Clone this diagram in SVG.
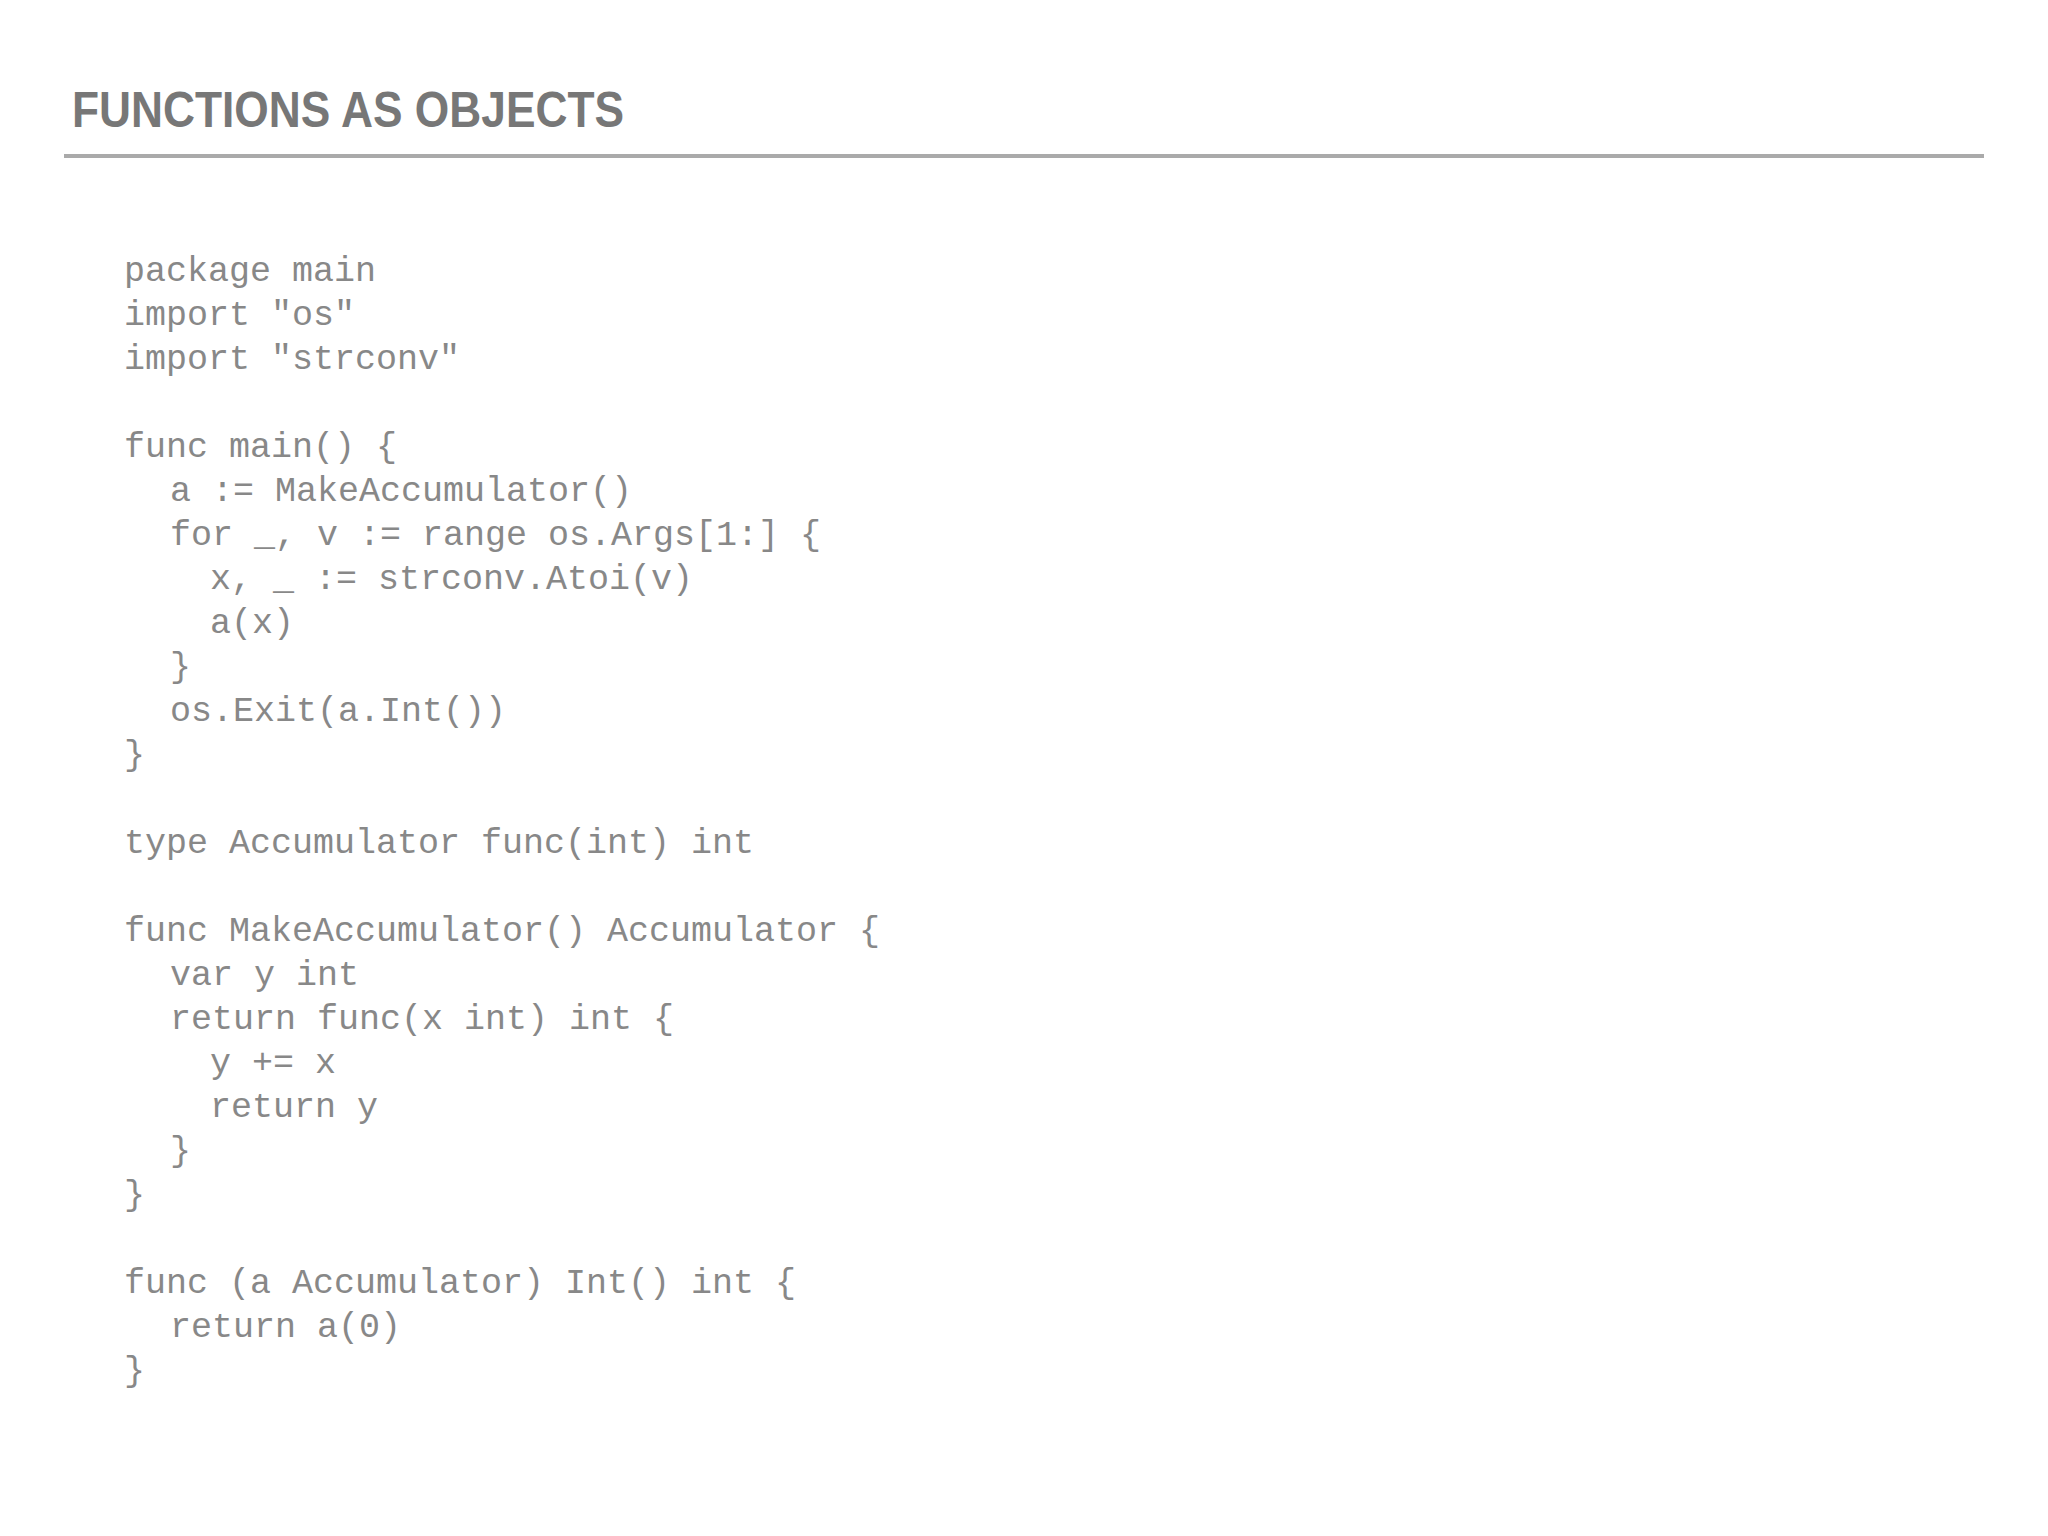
<svg xmlns="http://www.w3.org/2000/svg" width="2048" height="1536" viewBox="0 0 2048 1536">
<style>
.t{font-family:"Liberation Sans",Arial,sans-serif;font-weight:bold;font-size:50px;fill:#777}
.c{font-family:"Liberation Mono","DejaVu Sans Mono",monospace;font-size:35px;fill:#888}
</style>
<rect width="2048" height="1536" fill="#fff"/>
<g id="title"><text class="t" x="72" y="127" textLength="552" lengthAdjust="spacingAndGlyphs">FUNCTIONS AS OBJECTS</text>
<line x1="64" y1="156" x2="1984" y2="156" stroke="#aaa" stroke-width="4"/></g>
<g id="code" class="c">
<text x="124" y="281">package main</text>
<text x="124" y="325">import "os"</text>
<text x="124" y="369">import "strconv"</text>
<text x="124" y="457">func main() {</text>
<text x="170" y="501">a := MakeAccumulator()</text>
<text x="170" y="545">for _, v := range os.Args[1:] {</text>
<text x="210" y="589">x, _ := strconv.Atoi(v)</text>
<text x="210" y="633">a(x)</text>
<text x="170" y="677">}</text>
<text x="170" y="721">os.Exit(a.Int())</text>
<text x="124" y="765">}</text>
<text x="124" y="853">type Accumulator func(int) int</text>
<text x="124" y="941">func MakeAccumulator() Accumulator {</text>
<text x="170" y="985">var y int</text>
<text x="170" y="1029">return func(x int) int {</text>
<text x="210" y="1073">y += x</text>
<text x="210" y="1117">return y</text>
<text x="170" y="1161">}</text>
<text x="124" y="1205">}</text>
<text x="124" y="1293">func (a Accumulator) Int() int {</text>
<text x="170" y="1337">return a(0)</text>
<text x="124" y="1381">}</text>
</g>
</svg>
